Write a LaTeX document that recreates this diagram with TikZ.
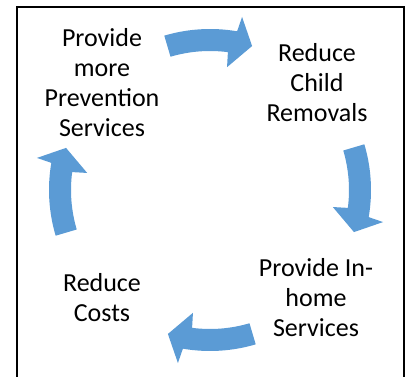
\documentclass[tikz,border=0pt]{standalone}
\usepackage{fontspec}
\setmainfont{Carlito}
\definecolor{arrowblue}{RGB}{91,155,213}

\begin{document}
\begin{tikzpicture}[x=1pt,y=1pt]
\tikzset{
  stepnode/.style={align=center,inner sep=0pt,font=\fontsize{26}{30}\selectfont},
  cyclearrow/.style={fill=arrowblue,draw=none},
  frameline/.style={draw=black,line width=2pt}
}
\useasboundingbox (0,0) rectangle (405,377);
\draw[frameline] (16.5,-10) -- (16.5,370) -- (404,370) -- (404,-10);
\node[stepnode] (n_prevent) at (102,294) {Provide\\more\\Prevention\\Services};
\node[stepnode] (n_removals) at (317,294) {Reduce\\Child\\Removals};
\node[stepnode] (n_inhome) at (316,79) {Provide In-\\home\\Services};
\node[stepnode] (n_costs) at (102,79) {Reduce\\Costs};
\begin{scope}[shift={(210,187)}]
\fill[cyclearrow] (106.5:161pt) arc[start angle=106.5,end angle=80.3,radius=161pt] -- (79.5:176pt) -- (73.7:150pt) -- (82.1:124pt) -- (82.6:139pt) arc[start angle=82.6,end angle=106.5,radius=139pt] -- cycle;
\fill[cyclearrow] (16.5:161pt) arc[start angle=16.5,end angle=-9.7,radius=161pt] -- (-10.5:176pt) -- (-16.3:150pt) -- (-7.9:124pt) -- (-7.4:139pt) arc[start angle=-7.4,end angle=16.5,radius=139pt] -- cycle;
\fill[cyclearrow] (286.5:161pt) arc[start angle=286.5,end angle=260.3,radius=161pt] -- (259.5:176pt) -- (253.7:150pt) -- (262.1:124pt) -- (262.6:139pt) arc[start angle=262.6,end angle=286.5,radius=139pt] -- cycle;
\fill[cyclearrow] (196.5:161pt) arc[start angle=196.5,end angle=170.3,radius=161pt] -- (169.5:176pt) -- (163.7:150pt) -- (172.1:124pt) -- (172.6:139pt) arc[start angle=172.6,end angle=196.5,radius=139pt] -- cycle;
\end{scope}
\end{tikzpicture}
\end{document}
